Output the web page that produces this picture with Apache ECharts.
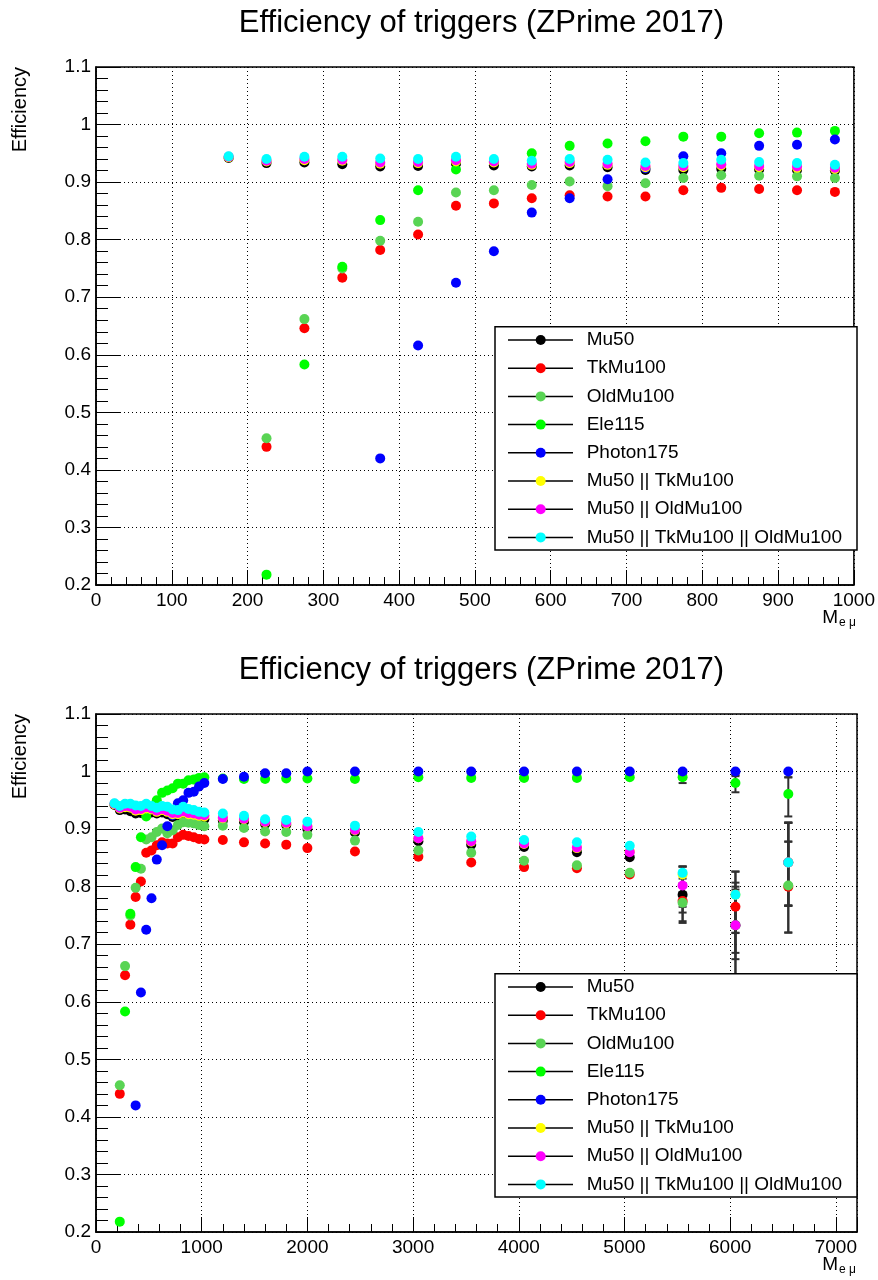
<!DOCTYPE html>
<html>
<head>
<meta charset="utf-8">
<title>Efficiency of triggers (ZPrime 2017)</title>
<script src="https://cdn.jsdelivr.net/npm/echarts@6/dist/echarts.min.js"></script>
<style>
  html, body { margin: 0; padding: 0; background: #ffffff; }
  #chart { width: 878px; height: 1280px; }
</style>
</head>
<body>
<div id="chart"></div>
<script>
// Bin centres of the e-mu invariant mass (GeV)
const mass = [175, 225, 275, 325, 375, 425, 475, 525, 575, 625, 675, 725, 775, 825, 875, 925, 975, 1025,
              1200, 1400, 1600, 1800, 2000, 2450, 3050, 3550, 4050, 4550, 5050, 5550, 6050, 6550];

const triggerNames = ['Mu50', 'TkMu100', 'OldMu100', 'Ele115', 'Photon175',
                      'Mu50 || TkMu100', 'Mu50 || OldMu100', 'Mu50 || TkMu100 || OldMu100'];
const triggerColors = ['#000000', '#ff0000', '#59d454', '#00ff00', '#0000ff',
                       '#ffff00', '#ff00ff', '#00ffff'];

// Trigger efficiencies per mass bin (null = below the plotted range)
const effMu50 = [0.942, 0.933, 0.934, 0.931, 0.927, 0.928, 0.932, 0.929, 0.927, 0.929, 0.926, 0.921, 0.921, 0.923, 0.922, 0.921, 0.920, 0.917,
                 0.915, 0.913, 0.909, 0.907, 0.900, 0.894, 0.879, 0.873, 0.869, 0.860, 0.851, 0.786, 0.733, 0.842];
const effTkMu100 = [null, 0.440, 0.646, 0.734, 0.782, 0.809, 0.859, 0.863, 0.872, 0.877, 0.875, 0.875, 0.886, 0.890, 0.888, 0.886, 0.883, 0.882,
                    0.881, 0.877, 0.875, 0.873, 0.867, 0.861, 0.852, 0.842, 0.834, 0.832, 0.821, 0.775, 0.765, 0.800];
const effOldMu100 = [null, 0.455, 0.662, 0.750, 0.798, 0.831, 0.882, 0.886, 0.895, 0.901, 0.893, 0.898, 0.907, 0.912, 0.911, 0.910, 0.907, 0.905,
                     0.906, 0.902, 0.896, 0.895, 0.890, 0.880, 0.863, 0.859, 0.845, 0.837, 0.824, 0.772, 0.733, 0.802];
const effEle115 = [null, 0.218, 0.583, 0.753, 0.834, 0.886, 0.922, 0.935, 0.950, 0.963, 0.967, 0.971, 0.979, 0.979, 0.985, 0.986, 0.989, 0.990,
                   0.988, 0.987, 0.987, 0.988, 0.988, 0.987, 0.990, 0.989, 0.989, 0.989, 0.990, 0.990, 0.980, 0.961];
const effPhoton175 = [null, null, null, null, 0.420, 0.616, 0.725, 0.780, 0.847, 0.872, 0.905, 0.924, 0.945, 0.950, 0.963, 0.965, 0.974, 0.980,
                      0.987, 0.991, 0.997, 0.997, 1.000, 1.000, 1.000, 1.000, 1.000, 1.000, 1.000, 1.000, 1.000, 1.000];
const effMu50OrTk = [0.943, 0.936, 0.938, 0.937, 0.932, 0.933, 0.936, 0.934, 0.930, 0.933, 0.930, 0.926, 0.926, 0.929, 0.926, 0.925, 0.923, 0.922,
                     0.919, 0.917, 0.912, 0.910, 0.905, 0.898, 0.884, 0.878, 0.874, 0.867, 0.861, 0.821, 0.786, 0.842];
const effMu50OrOld = [0.944, 0.937, 0.940, 0.939, 0.934, 0.935, 0.938, 0.936, 0.932, 0.935, 0.932, 0.928, 0.928, 0.931, 0.928, 0.927, 0.925, 0.924,
                      0.920, 0.918, 0.913, 0.911, 0.905, 0.899, 0.884, 0.879, 0.875, 0.868, 0.860, 0.802, 0.733, 0.842];
const effMu50OrTkOrOld = [0.945, 0.940, 0.944, 0.944, 0.941, 0.940, 0.944, 0.940, 0.937, 0.940, 0.939, 0.934, 0.933, 0.939, 0.935, 0.933, 0.930, 0.929,
                          0.927, 0.923, 0.917, 0.916, 0.913, 0.906, 0.895, 0.887, 0.881, 0.877, 0.871, 0.824, 0.786, 0.842];

// Asymmetric uncertainty intervals [low, high] for the sparsely populated high-mass bins
const errMass = [5550, 6050, 6550];
const errMu50 = [[0.755, 0.814], [0.640, 0.795], [0.767, 0.911]];
const errTkMu100 = [[0.740, 0.806], [0.685, 0.807], [0.720, 0.878]];
const errOldMu100 = [[0.737, 0.804], [0.630, 0.800], [0.7205, 0.8785]];
const errEle115 = [[0.980, 0.996], [0.964, 0.992], [0.922, 0.990]];
const errPhoton175 = [[0.996, 1.0], [0.994, 1.0], [0.990, 1.0]];
const errMu50OrTk = [[0.785, 0.835], [0.720, 0.826], [0.767, 0.911]];
const errMu50OrOld = [[0.765, 0.835], [0.674, 0.790], [0.767, 0.911]];
const errMu50OrTkOrOld = [[0.790, 0.835], [0.7194, 0.8264], [0.767, 0.9115]];

// Axis ranges
const yRange = { min: 0.2, max: 1.1, step: 0.1, minor: 0.02 };
const xRanges = [
  { min: 0, max: 1000, step: 100, minor: 20 },
  { min: 0, max: 7200, step: 1000, minor: 200 }
];
const chartTitle = 'Efficiency of triggers (ZPrime 2017)';
const yTitle = 'Efficiency';
const xTitleMain = 'M';
const xTitleSub = 'e \u03bc';

const effSeries = [effMu50, effTkMu100, effOldMu100, effEle115, effPhoton175, effMu50OrTk, effMu50OrOld, effMu50OrTkOrOld];
const errSeries = [errMu50, errTkMu100, errOldMu100, errEle115, errPhoton175, errMu50OrTk, errMu50OrOld, errMu50OrTkOrOld];

// ---- layout ----
const FONT = '"Liberation Sans", Arial, Helvetica, sans-serif';
const GRID_LEFT = 96, GRID_WIDTH = 761, GRID_HEIGHT = 518;
const panelTops = [67, 714];

function renderErrorBar(params, api) {
  const x = api.value(0), lo = api.value(1), hi = api.value(2);
  const pLo = api.coord([x, lo]);
  const pHi = api.coord([x, hi]);
  const cap = 4;
  const style = { stroke: '#303030', lineWidth: 2 };
  return {
    type: 'group',
    children: [
      { type: 'line', shape: { x1: pLo[0], y1: pLo[1], x2: pHi[0], y2: pHi[1] }, style },
      { type: 'line', shape: { x1: pLo[0] - cap, y1: pLo[1], x2: pLo[0] + cap, y2: pLo[1] }, style },
      { type: 'line', shape: { x1: pHi[0] - cap, y1: pHi[1], x2: pHi[0] + cap, y2: pHi[1] }, style }
    ]
  };
}

const grids = [], xAxes = [], yAxes = [], titles = [], legends = [], series = [], graphics = [];

panelTops.forEach((top, p) => {
  const xr = xRanges[p];
  grids.push({
    left: GRID_LEFT, top: top, width: GRID_WIDTH, height: GRID_HEIGHT,
    show: true, borderColor: '#000', borderWidth: 1.5, backgroundColor: 'transparent'
  });

  // major ticks, labels and grid lines
  xAxes.push({
    gridIndex: p, type: 'value', position: 'bottom',
    min: xr.min, max: xr.max, interval: xr.step,
    axisLine: { show: true, onZero: false, lineStyle: { color: '#000', width: 1.5 } },
    axisTick: { show: true, inside: true, length: 15, lineStyle: { color: '#000', width: 1 } },
    axisLabel: {
      color: '#000', fontSize: 19, fontFamily: FONT, margin: 6,
      formatter: v => (v % xr.step === 0 ? String(v) : '')
    },
    splitLine: { show: true, lineStyle: { color: '#000', width: 1, type: [1, 3] } }
  });
  // minor ticks
  xAxes.push({
    gridIndex: p, type: 'value', position: 'bottom',
    min: xr.min, max: xr.max, interval: xr.minor,
    axisLine: { show: false },
    axisTick: { show: true, inside: true, length: 8, lineStyle: { color: '#000', width: 1 } },
    axisLabel: { show: false },
    splitLine: { show: false }
  });

  yAxes.push({
    gridIndex: p, type: 'value',
    min: yRange.min, max: yRange.max, interval: yRange.step,
    axisLine: { show: true, onZero: false, lineStyle: { color: '#000', width: 1.5 } },
    axisTick: { show: true, inside: true, length: 24, lineStyle: { color: '#000', width: 1 } },
    minorTick: { show: true, splitNumber: Math.round(yRange.step / yRange.minor), length: 12, lineStyle: { color: '#000', width: 1 } },
    axisLabel: {
      color: '#000', fontSize: 19, fontFamily: FONT, margin: 5,
      formatter: v => String(Math.round(v * 10) / 10)
    },
    splitLine: { show: true, lineStyle: { color: '#000', width: 1, type: [1, 3] } }
  });

  titles.push({
    text: chartTitle,
    left: GRID_LEFT + GRID_WIDTH / 2, textAlign: 'center',
    top: top - 64,
    textStyle: { fontSize: 31, fontWeight: 'normal', color: '#000', fontFamily: FONT }
  });

  // legend box with a line through each marker
  const boxTop = top + 259.7;
  const itemStep = 28.2;
  const firstItem = top + 273;
  graphics.push({
    type: 'rect', z: 10,
    shape: { x: 495, y: boxTop, width: 362, height: 223.3 },
    style: { fill: '#ffffff', stroke: '#000', lineWidth: 1.5 }
  });
  triggerNames.forEach((n, k) => {
    const y = firstItem + k * itemStep;
    graphics.push({
      type: 'line', z: 11,
      shape: { x1: 508, y1: y, x2: 573, y2: y },
      style: { stroke: '#000', lineWidth: 1.5 }
    });
  });
  legends.push({
    data: triggerNames,
    orient: 'vertical',
    left: 535.7, top: firstItem - 9.5,
    padding: 0,
    itemWidth: 10, itemHeight: 10, itemGap: itemStep - 19,
    icon: 'circle',
    selectedMode: false,
    z: 20,
    textStyle: { color: '#000', fontSize: 19, fontFamily: FONT, lineHeight: 19, padding: [0, 0, 0, 36] }
  });

  // axis titles
  graphics.push({
    type: 'text', z: 5, x: 20, y: top, rotation: Math.PI / 2,
    style: { text: yTitle, fill: '#000', fontSize: 20, fontFamily: FONT, align: 'right', verticalAlign: 'middle' }
  });
  graphics.push({
    type: 'text', z: 5, x: 838, y: top + 551,
    style: { text: xTitleMain, fill: '#000', fontSize: 19, fontFamily: FONT, align: 'right', verticalAlign: 'middle' }
  });
  graphics.push({
    type: 'text', z: 5, x: 839, y: top + 556,
    style: { text: xTitleSub, fill: '#000', fontSize: 12, fontFamily: FONT, align: 'left', verticalAlign: 'middle' }
  });
});

// data series: per panel, each trigger's uncertainties then its markers
panelTops.forEach((top, p) => {
  triggerNames.forEach((name, i) => {
    if (p === 1) {
      series.push({
        name: name + ' (unc.)',
        type: 'custom',
        xAxisIndex: 2 * p, yAxisIndex: p,
        clip: true, z: 2,
        renderItem: renderErrorBar,
        data: errMass.map((m, k) => [m, errSeries[i][k][0], errSeries[i][k][1]])
      });
    }
    series.push({
      name: name,
      type: 'scatter',
      xAxisIndex: 2 * p, yAxisIndex: p,
      clip: true, z: 2,
      symbol: 'circle', symbolSize: 10,
      itemStyle: { color: triggerColors[i], opacity: 1 },
      emphasis: { disabled: true },
      data: mass.map((m, k) => [m, effSeries[i][k]]).filter(d => d[1] !== null)
    });
  });
});

const chart = echarts.init(document.getElementById('chart'), null, { renderer: 'canvas' });
chart.setOption({
  animation: false,
  backgroundColor: '#ffffff',
  color: triggerColors,
  title: titles,
  grid: grids,
  xAxis: xAxes,
  yAxis: yAxes,
  legend: legends,
  graphic: graphics,
  series: series
});
</script>
</body>
</html>
